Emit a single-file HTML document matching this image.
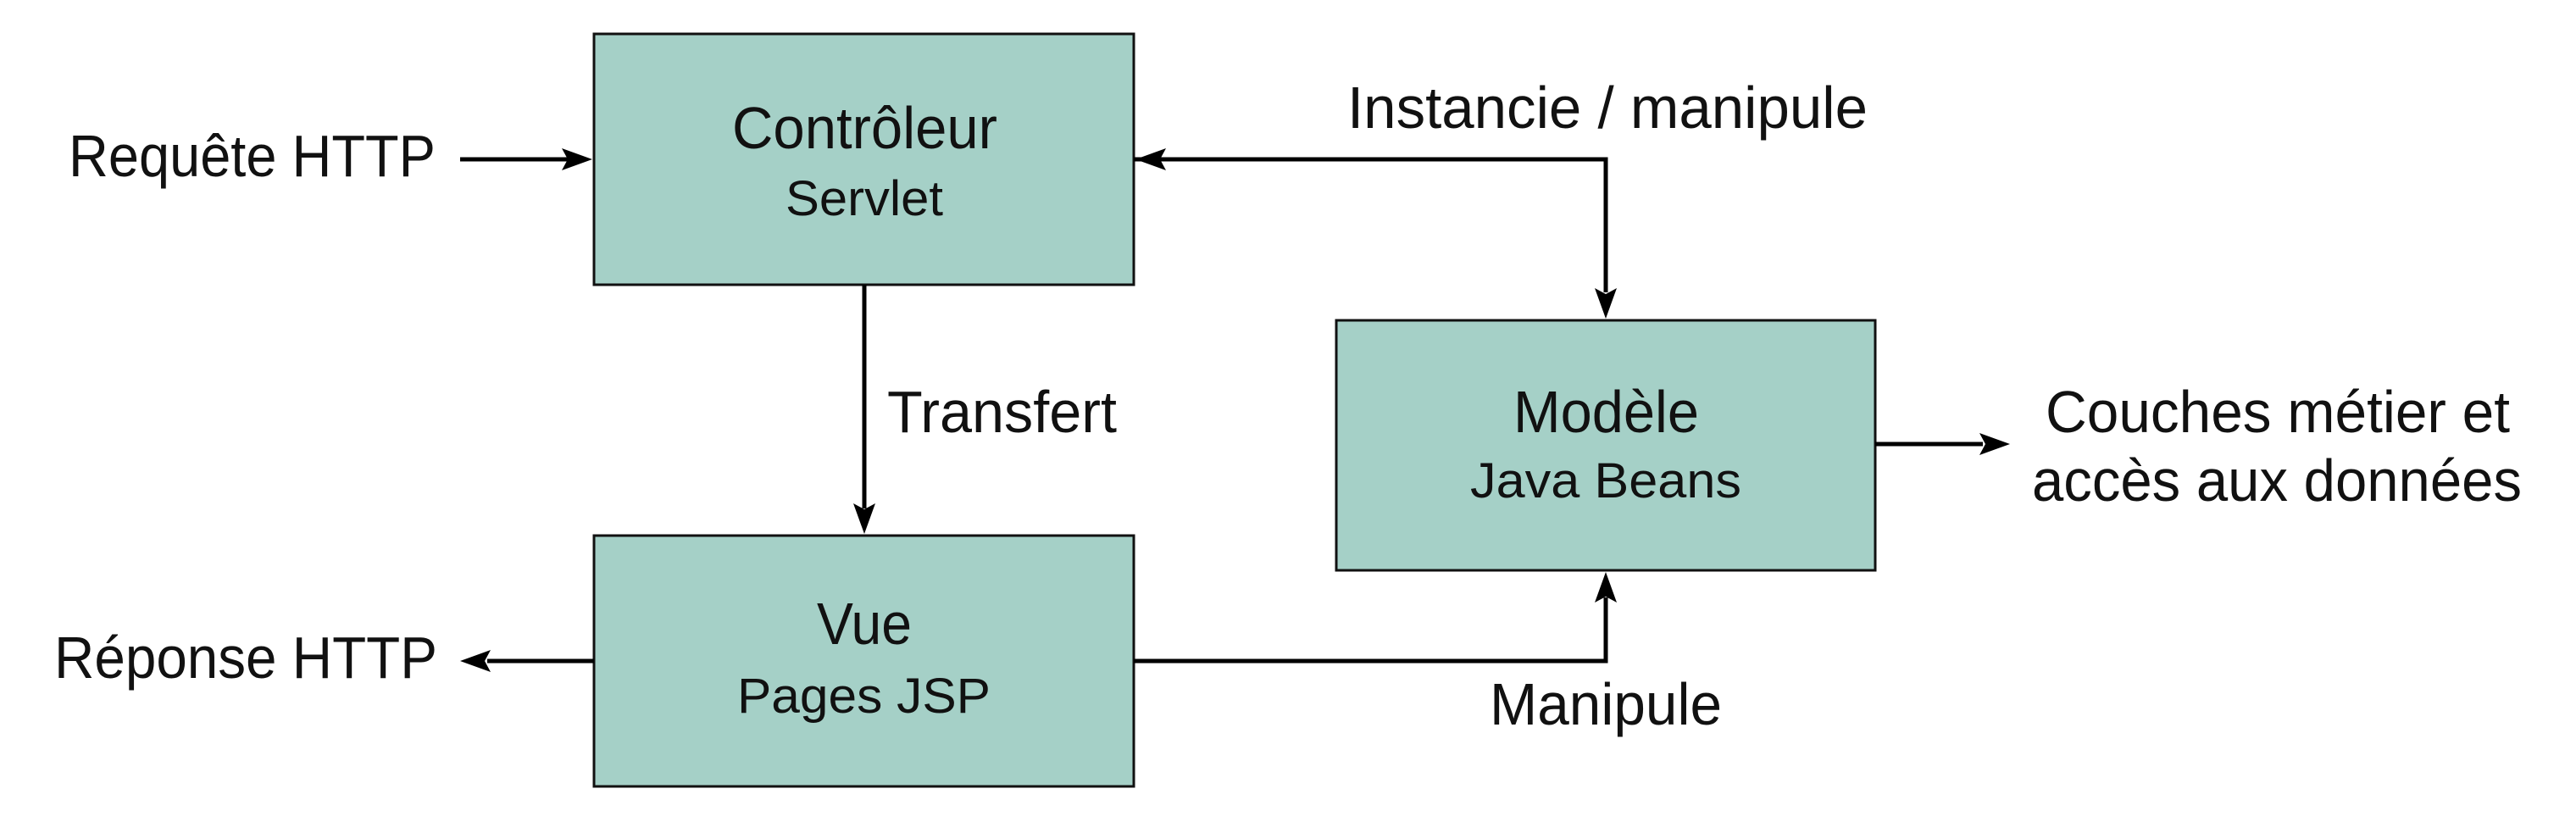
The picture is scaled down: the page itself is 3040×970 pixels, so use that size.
<!DOCTYPE html>
<html><head><meta charset="utf-8"><style>
html,body{margin:0;padding:0;background:#fff;}
svg{display:block;}
text{font-family:"Liberation Sans",sans-serif;fill:#111;}
</style></head><body>
<svg width="3040" height="970" viewBox="0 0 3040 970" xmlns="http://www.w3.org/2000/svg">
<defs>
<marker id="a" markerWidth="10" markerHeight="8" refX="9.5" refY="4" orient="auto" markerUnits="userSpaceOnUse" viewBox="0 0 10 8">
</marker>
</defs>
<g fill="#a5d0c7" stroke="#111" stroke-width="3">
<rect x="701" y="40" width="637" height="296"/>
<rect x="701" y="632" width="637" height="296"/>
<rect x="1577" y="378" width="636" height="295"/>
</g>
<g stroke="#000" stroke-width="5" fill="none">
<line x1="543" y1="188" x2="670" y2="188"/>
<polyline points="1338,188 1895,188 1895,345"/>
<line x1="1020" y1="336" x2="1020" y2="600"/>
<line x1="701" y1="780" x2="575" y2="780"/>
<polyline points="1338,780 1895,780 1895,705"/>
<line x1="2213" y1="524" x2="2340" y2="524"/>
</g>
<g fill="#000">
<polygon points="699,188 663,175 670,188 663,201"/>
<polygon points="1340,188 1376,175 1369,188 1376,201"/>
<polygon points="1895,376 1882,340 1895,347 1908,340"/>
<polygon points="1020,630 1007,594 1020,601 1033,594"/>
<polygon points="543,780 579,767 572,780 579,793"/>
<polygon points="1895,675 1882,711 1895,704 1908,711"/>
<polygon points="2372,524 2336,511 2343,524 2336,537"/>
</g>
<g font-size="70">
<text x="81" y="208" textLength="433" lengthAdjust="spacingAndGlyphs">Requête HTTP</text>
<text x="864" y="175" textLength="313" lengthAdjust="spacingAndGlyphs">Contrôleur</text>
<text x="1590" y="151" textLength="614" lengthAdjust="spacingAndGlyphs">Instancie / manipule</text>
<text x="1047" y="510" textLength="271" lengthAdjust="spacingAndGlyphs">Transfert</text>
<text x="1786" y="510" textLength="219" lengthAdjust="spacingAndGlyphs">Modèle</text>
<text x="2414" y="510" textLength="548" lengthAdjust="spacingAndGlyphs">Couches métier et</text>
<text x="2398" y="591" textLength="578" lengthAdjust="spacingAndGlyphs">accès aux données</text>
<text x="964" y="760" textLength="112" lengthAdjust="spacingAndGlyphs">Vue</text>
<text x="64" y="800" textLength="452" lengthAdjust="spacingAndGlyphs">Réponse HTTP</text>
<text x="1758" y="855" textLength="274" lengthAdjust="spacingAndGlyphs">Manipule</text>
</g>
<g font-size="58">
<text x="927" y="254" textLength="186" lengthAdjust="spacingAndGlyphs">Servlet</text>
<text x="1735" y="587" textLength="320" lengthAdjust="spacingAndGlyphs">Java  Beans</text>
<text x="870" y="841" textLength="299" lengthAdjust="spacingAndGlyphs">Pages  JSP</text>
</g>
</svg>
</body></html>
